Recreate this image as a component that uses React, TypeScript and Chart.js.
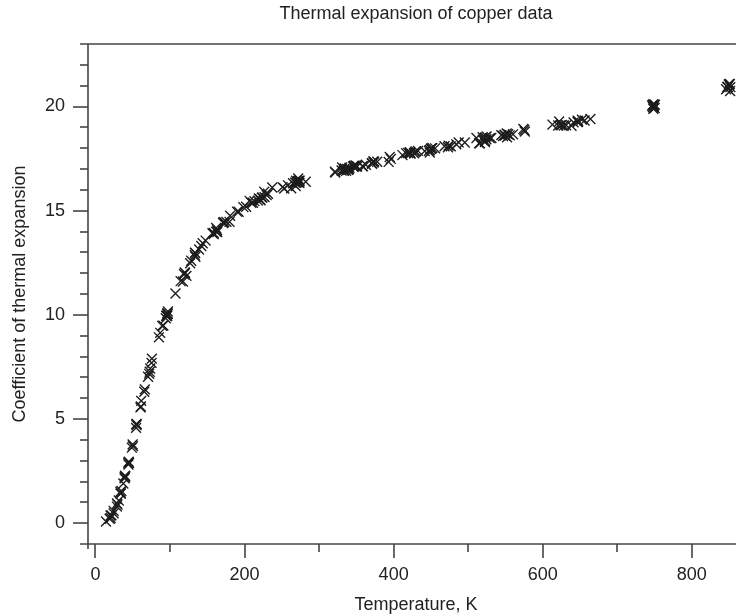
import React, { useEffect, useRef } from "react";
import { Chart, registerables } from "chart.js";

Chart.register(...registerables);

const chartTitle = "Thermal expansion of copper data";
const xAxisTitle = "Temperature, K";
const yAxisTitle = "Coefficient of thermal expansion";

const xMajorTicks = [0, 200, 400, 600, 800];
const xMinorTicks = [100, 300, 500, 700];
const yMajorTicks = [0, 5, 10, 15, 20];
const yMinorTicks = [1, 2, 3, 4, 6, 7, 8, 9, 11, 12, 13, 14, 16, 17, 18, 19, 21, 22];

const temperature = [
  24.41, 34.82, 44.09, 45.07, 54.98, 65.51, 70.53, 75.7, 89.57, 91.14, 96.4, 97.19,
  114.26, 120.25, 127.08, 133.55, 133.61, 158.67, 172.74, 171.31, 202.14, 220.55, 221.05,
  221.39, 250.99, 268.99, 271.8, 271.97, 321.31, 321.69, 330.14, 333.03, 333.47, 340.77,
  345.65, 373.11, 373.79, 411.82, 419.51, 421.59, 422.02, 422.47, 422.61, 441.75, 447.41,
  448.7, 472.89, 476.69, 522.47, 522.62, 524.43, 546.75, 549.53, 575.29, 576.0, 625.55,
  20.15, 28.78, 29.57, 37.41, 39.12, 50.24, 61.38, 66.25, 73.42, 95.52, 107.32, 122.04,
  134.03, 163.19, 163.48, 175.7, 179.86, 211.27, 217.78, 219.14, 262.52, 268.01, 268.62,
  336.25, 337.23, 339.33, 427.38, 428.58, 432.68, 528.99, 531.08, 628.34, 253.24, 273.13,
  273.66, 282.1, 346.62, 347.19, 348.78, 351.18, 450.1, 450.35, 451.92, 455.56, 552.22,
  553.56, 555.74, 652.59, 656.2, 14.13, 20.41, 31.3, 33.84, 39.7, 48.83, 54.5, 60.41,
  72.77, 75.25, 86.84, 94.88, 96.4, 117.37, 139.08, 147.73, 158.63, 161.84, 192.11,
  206.76, 209.07, 213.32, 226.44, 237.12, 330.9, 358.72, 370.77, 372.72, 396.24, 416.59,
  484.02, 495.47, 514.78, 515.65, 519.47, 544.47, 560.11, 620.77, 18.97, 28.93, 33.91,
  40.03, 44.66, 49.87, 55.16, 60.9, 72.08, 85.15, 97.06, 119.63, 133.27, 143.84, 161.91,
  180.67, 198.44, 226.86, 229.65, 258.27, 273.77, 339.15, 350.13, 362.75, 371.03, 393.32,
  448.53, 473.78, 511.12, 524.7, 548.75, 551.64, 574.02, 623.86, 21.46, 24.33, 33.43,
  39.22, 44.18, 55.02, 94.33, 96.44, 118.82, 128.48, 141.94, 156.92, 171.65, 190.0,
  223.26, 223.88, 231.5, 265.05, 269.44, 271.78, 273.46, 334.61, 339.79, 349.52, 358.18,
  377.98, 394.77, 429.66, 468.22, 487.27, 519.54, 523.03, 612.99, 638.59, 641.36, 622.05,
  631.5, 663.97, 646.9, 748.29, 749.21, 750.14, 647.04, 646.89, 746.9, 748.43, 747.35,
  749.27, 647.61, 747.78, 750.51, 851.37, 845.97, 847.54, 849.93, 851.61, 849.75, 850.98,
  848.23,
];

const coefficient = [
  0.591, 1.547, 2.902, 2.894, 4.703, 6.307, 7.03, 7.898, 9.47, 9.484, 10.072, 10.163,
  11.615, 12.005, 12.478, 12.982, 12.97, 13.926, 14.452, 14.404, 15.19, 15.55, 15.528,
  15.499, 16.131, 16.438, 16.387, 16.549, 16.872, 16.83, 16.926, 16.907, 16.966, 17.06,
  17.122, 17.311, 17.355, 17.668, 17.767, 17.803, 17.765, 17.768, 17.736, 17.858, 17.877,
  17.912, 18.046, 18.085, 18.291, 18.357, 18.426, 18.584, 18.61, 18.87, 18.795, 19.111,
  0.367, 0.796, 0.892, 1.903, 2.15, 3.697, 5.87, 6.421, 7.422, 9.944, 11.023, 11.87,
  12.786, 14.067, 13.974, 14.462, 14.464, 15.381, 15.483, 15.59, 16.075, 16.347, 16.181,
  16.915, 17.003, 16.978, 17.756, 17.808, 17.868, 18.481, 18.486, 19.09, 16.062, 16.337,
  16.345, 16.388, 17.159, 17.116, 17.164, 17.123, 17.979, 17.974, 18.007, 17.993, 18.523,
  18.669, 18.617, 19.371, 19.33, 0.08, 0.248, 1.089, 1.418, 2.278, 3.624, 4.574, 5.556,
  7.267, 7.695, 9.136, 9.959, 9.957, 11.6, 13.138, 13.564, 13.871, 13.994, 14.947,
  15.473, 15.379, 15.455, 15.908, 16.114, 17.071, 17.135, 17.282, 17.368, 17.483, 17.764,
  18.185, 18.271, 18.236, 18.237, 18.523, 18.627, 18.665, 19.086, 0.214, 0.943, 1.429,
  2.241, 2.951, 3.782, 4.757, 5.602, 7.169, 8.92, 10.055, 12.035, 12.861, 13.436, 14.167,
  14.755, 15.168, 15.651, 15.746, 16.216, 16.445, 16.965, 17.121, 17.206, 17.25, 17.339,
  17.793, 18.123, 18.49, 18.566, 18.645, 18.706, 18.924, 19.1, 0.375, 0.471, 1.504,
  2.204, 2.813, 4.765, 9.835, 10.04, 11.946, 12.596, 13.303, 13.922, 14.44, 14.951,
  15.627, 15.639, 15.814, 16.315, 16.334, 16.43, 16.423, 17.024, 17.009, 17.165, 17.134,
  17.349, 17.576, 17.848, 18.09, 18.276, 18.404, 18.519, 19.133, 19.074, 19.239, 19.28,
  19.101, 19.398, 19.252, 19.89, 20.007, 19.929, 19.268, 19.324, 20.049, 20.107, 20.062,
  20.065, 19.286, 19.972, 20.088, 20.743, 20.83, 20.935, 21.035, 20.93, 21.074, 21.085,
  20.935,
];

const FONT = "'Liberation Sans', Arial, Helvetica, sans-serif";
const INK = "#222222";
const AXIS = "#444444";

const framePlugin = {
  id: "frame",
  afterDraw(chart: any) {
    const { ctx, chartArea: a, scales } = chart;
    const xs = scales.x;
    const ys = scales.y;
    const line = (x1: number, y1: number, x2: number, y2: number) => {
      ctx.beginPath();
      ctx.moveTo(x1, y1);
      ctx.lineTo(x2, y2);
      ctx.stroke();
    };
    ctx.save();
    ctx.strokeStyle = AXIS;
    ctx.lineWidth = 1.6;
    line(a.left - 8, a.top, a.right, a.top);
    line(a.left - 8, a.bottom, a.right, a.bottom);
    line(a.left, a.top, a.left, a.bottom + 5);
    for (const v of xMajorTicks) {
      const p = Math.round(xs.getPixelForValue(v));
      line(p, a.bottom, p, a.bottom + 14);
    }
    for (const v of xMinorTicks) {
      const p = Math.round(xs.getPixelForValue(v));
      line(p, a.bottom, p, a.bottom + 8);
    }
    for (const v of yMajorTicks) {
      const p = Math.round(ys.getPixelForValue(v));
      line(a.left - 15, p, a.left, p);
    }
    for (const v of yMinorTicks) {
      const p = Math.round(ys.getPixelForValue(v));
      line(a.left - 8, p, a.left, p);
    }
    ctx.restore();
  },
};

export default function App() {
  const ref = useRef<HTMLCanvasElement | null>(null);
  useEffect(() => {
    if (!ref.current) return;
    Chart.defaults.font.family = FONT;
    Chart.defaults.color = INK;
    const points = temperature.map((t, i) => ({ x: t, y: coefficient[i] }));
    const chart = new Chart(ref.current, {
      type: "scatter",
      data: {
        datasets: [
          {
            data: points,
            pointStyle: "crossRot",
            pointRadius: 7,
            pointHoverRadius: 7,
            borderColor: "#1c1c1c",
            backgroundColor: "#1c1c1c",
            borderWidth: 1.35,
          },
        ],
      },
      options: {
        responsive: false,
        animation: false,
        layout: { padding: 0, autoPadding: false },
        plugins: {
          legend: { display: false },
          tooltip: { enabled: false },
          title: {
            display: true,
            fullSize: false,
            text: chartTitle,
            color: INK,
            font: { family: FONT, size: 18, weight: "normal" },
            padding: { top: 3, bottom: 19.4 },
          },
        },
        scales: {
          x: {
            type: "linear",
            min: -10,
            max: 870,
            grid: { display: false, drawTicks: false },
            border: { display: false },
            afterBuildTicks: (s: any) => {
              s.ticks = xMajorTicks.map((v) => ({ value: v }));
            },
            afterFit: (s: any) => {
              s.height = 72;
            },
            ticks: {
              color: INK,
              padding: 20,
              maxRotation: 0,
              autoSkip: false,
              font: { family: FONT, size: 18 },
            },
            title: {
              display: true,
              text: xAxisTitle,
              color: INK,
              font: { family: FONT, size: 18 },
              padding: { top: 0, bottom: 0 },
            },
          },
          y: {
            type: "linear",
            min: -1,
            max: 23,
            grid: { display: false, drawTicks: false },
            border: { display: false },
            afterBuildTicks: (s: any) => {
              s.ticks = yMajorTicks.map((v) => ({ value: v }));
            },
            afterFit: (s: any) => {
              s.width = 88;
            },
            ticks: {
              color: INK,
              padding: 23,
              autoSkip: false,
              font: { family: FONT, size: 18 },
            },
            title: {
              display: true,
              text: yAxisTitle,
              color: INK,
              font: { family: FONT, size: 18 },
              padding: { top: 9, bottom: 0 },
            },
          },
        },
      },
      plugins: [framePlugin],
    });
    return () => chart.destroy();
  }, []);
  return (
    <div style={{ position: "fixed", left: 0, top: 0, width: 736, height: 616, overflow: "hidden", background: "#fff" }}>
      <canvas ref={ref} width={744} height={616} style={{ display: "block", width: 744, height: 616 }} />
    </div>
  );
}
